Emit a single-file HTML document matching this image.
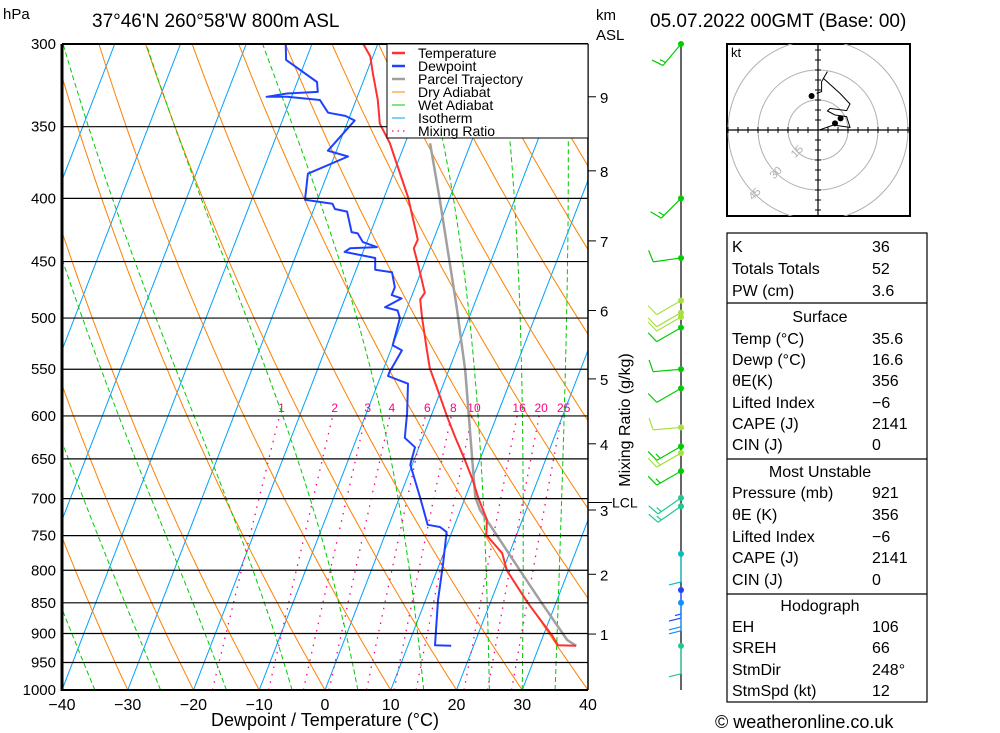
<!DOCTYPE html>
<html><head><meta charset="utf-8">
<style>
html,body{margin:0;padding:0;background:#fff;}
svg{display:block;font-family:"Liberation Sans",sans-serif;}
</style></head>
<body>
<svg id="chart" width="1000" height="733" viewBox="0 0 1000 733">
<defs><clipPath id="plotclip"><rect x="62" y="44" width="526" height="646"/></clipPath></defs>
<g id="bg" clip-path="url(#plotclip)"></g>
<g id="series" clip-path="url(#plotclip)"></g>
<g id="axes"></g>
<text x="3" y="19" font-size="15">hPa</text>
<text x="92" y="27" font-size="19">37°46'N  260°58'W  800m  ASL</text>
<text x="596" y="20" font-size="15">km</text>
<text x="596" y="40" font-size="15">ASL</text>
<text x="650" y="27" font-size="19">05.07.2022  00GMT  (Base: 00)</text>
<text x="325" y="726" font-size="18" text-anchor="middle">Dewpoint / Temperature (°C)</text>
<text x="630" y="420" font-size="16" text-anchor="middle" transform="rotate(-90 630 420)">Mixing Ratio (g/kg)</text>
<text x="715" y="728" font-size="18">© weatheronline.co.uk</text>
<g id="legend"></g>
<g id="winds"></g>
<g id="hodo"></g>
<g id="table"></g>
</svg>
<script>
// ---- data ----
const tempP=[300,307,317,333,348,361,371,399,416,432,439,455,477,483,499,531,549,569,601,624,651,676,699,728,749,775,800,850,903,920,921];
const tempT=[-32.2,-30.4,-29.0,-26.7,-25.0,-22.3,-20.7,-16.4,-14.3,-12.4,-12.5,-10.6,-8.2,-8.5,-7.2,-4.5,-3.0,-0.8,2.5,4.9,7.7,10.1,12.0,14.6,15.4,18.9,20.6,25.7,31.3,32.8,35.6];
const dewP=[300,309,322,328,329,331,331,333,341,343,346,366,370,382,401,404,408,410,426,427,434,438,439,442,447,457,459,472,479,482,490,493,500,526,531,549,551,557,565,597,625,636,657,698,735,738,745,789,846,920,921];
const dewT=[-44.0,-43.0,-37.0,-36.3,-40.9,-43.8,-40.7,-35.5,-33.5,-30.7,-29.0,-31.3,-27.9,-33.0,-31.9,-27.5,-26.8,-24.8,-22.9,-21.9,-20.6,-18.2,-22.2,-22.8,-17.8,-17.1,-14.4,-13.1,-13.1,-11.4,-13.4,-11.3,-10.5,-10.0,-8.3,-8.8,-8.9,-8.9,-5.4,-3.8,-2.7,-0.6,-0.3,3.1,5.9,7.9,9.2,10.5,11.9,14.1,16.6];
const parcelP=[921,911,846,800,715,698,664,551,490,401,361];
const parcelT=[35.6,33.9,27.4,22.6,13.0,11.5,9.6,2.5,-2.5,-11.4,-16.2];
const pressureTicks=[300,350,400,450,500,550,600,650,700,750,800,850,900,950,1000];
const tempTicks=[-40,-30,-20,-10,0,10,20,30,40];
const kmLabels=[9,8,7,6,5,4,3,2,1];
const kmPress=[331,380,433,493,560,632,715,806,901];
const mixRatios=[1,2,3,4,6,8,10,16,20,25];
const windP=[300,400,447,484,495,499,509,550,570,613,635,643,665,699,710,776,830,850,921];
const windDir=[220,225,262,240,240,240,240,265,240,265,240,240,240,235,235,180,180,180,180];
const windSpd=[15,15,10,10,10,10,10,10,10,10,15,15,15,15,15,10,15,20,10];
const windCol=["#00cc00","#00cc00","#00cc00","#a8e040","#a8e040","#a8e040","#00cc00","#00cc00","#00cc00","#a8e040","#00cc00","#a8e040","#00cc00","#20c890","#20c890","#00c0c0","#2040ff","#1090ff","#20c890"];
const hodoU=[0.7,7.7,16,14.3,8.5,4.7,6,14.3,16,11,2.7,4.7,1.8,1.8,-0.7];
const hodoV=[0,2.5,1.3,6.7,7.5,9.5,10.8,9.7,13,18.3,25.8,29.2,24.2,19.2,18.3];
const hodoRings=[15,30,45];

// ---- scales ----
const NS="http://www.w3.org/2000/svg";
const LN=Math.log(1000/300);
function Y(p){return 44+646*Math.log(p/300)/LN;}
function X(T,p){return 62+(T+40)*6.575+0.387*(690-Y(p));}
function mk(tag,attrs,parent){const e=document.createElementNS(NS,tag);for(const k in attrs)e.setAttribute(k,attrs[k]);parent.appendChild(e);return e;}
const bg=document.getElementById('bg'),ser=document.getElementById('series'),ax=document.getElementById('axes');

// isotherms
for(let T=-130;T<=40;T+=10){
  const l=mk('line',{x1:X(T,1000),y1:Y(1000),x2:X(T,300),y2:Y(300),stroke:'#00a0ff','stroke-width':1},bg);
  
  
}
// dry adiabats
for(let th=-40;th<=170;th+=10){
  let pts=[];
  for(let p=1000;p>=300;p-=10){const T=(th+273.15)*Math.pow(p/1000,0.2857)-273.15;pts.push(X(T,p).toFixed(1)+','+Y(p).toFixed(1));}
  const l=mk('polyline',{points:pts.join(' '),fill:'none',stroke:'#ff8000','stroke-width':1},bg);
  
  
}
// wet adiabats
function es(T){return 6.112*Math.exp(17.67*T/(T+243.5));}
[-45,-35,-25,-15,-5,5,15,25,30,35].forEach(tw=>{
  let T=tw+273.15,pts=[];
  for(let p=1000;p>=300;p-=5){
    pts.push(X(T-273.15,p).toFixed(1)+','+Y(p).toFixed(1));
    const e=es(T-273.15),rs=0.622*e/(p-e);
    const dTdp=(287*T+2.5e6*rs)/(1005+2.5e6*2.5e6*rs*0.622/(287*T*T))/p;
    T-=dTdp*5;
  }
  const l=mk('polyline',{points:pts.join(' '),fill:'none',stroke:'#00cc00','stroke-width':1,'stroke-dasharray':'5,3'},bg);
  
  
});
// mixing ratio
mixRatios.forEach(w=>{
  let pts=[];
  for(let p=1000;p>=600;p-=10){const e=w*p/(622+w),a=Math.log(e/6.112),Td=243.5*a/(17.67-a);pts.push(X(Td,p).toFixed(1)+','+Y(p).toFixed(1));}
  const l=mk('polyline',{points:pts.join(' '),fill:'none',stroke:'#ff0080','stroke-width':1.3,'stroke-dasharray':'1.5,6'},bg);
  
  
  const e=w*600/(622+w),a=Math.log(e/6.112),Td=243.5*a/(17.67-a);
  const t=mk('text',{x:X(Td,600)+2,y:412,'font-size':12,fill:'#ff0080','text-anchor':'middle'},bg);
  t.textContent=w;
  
  
});
// isobars
pressureTicks.forEach(p=>{
  const l=mk('line',{x1:62,x2:588,y1:Y(p),y2:Y(p),stroke:'#000','stroke-width':1.2},ax);
  
  
  const t=mk('text',{x:56,y:Y(p)+5,'font-size':15,'text-anchor':'end'},ax);
  t.textContent=p;
  
  
});
mk('line',{x1:62,x2:62,y1:44,y2:691,stroke:'#000','stroke-width':3},ax);
mk('line',{x1:62,x2:588,y1:44,y2:44,stroke:'#000','stroke-width':2},ax);
mk('line',{x1:62,x2:588,y1:690,y2:690,stroke:'#000','stroke-width':2},ax);
mk('line',{x1:588,x2:588,y1:44,y2:690,stroke:'#000','stroke-width':1.5},ax);
tempTicks.forEach(T=>{
  const t=mk('text',{x:62+(T+40)*6.575,y:710,'font-size':16,'text-anchor':'middle'},ax);
  t.textContent=T<0?'\u2212'+(-T):T;
  
  
});
kmLabels.forEach((k,i)=>{
  const y=Y(kmPress[i]);
  mk('line',{x1:588,x2:596,y1:y,y2:y,stroke:'#000'},ax);
  const t=mk('text',{x:600,y:y+6,'font-size':15},ax);
  t.textContent=k;
  
  
});
mk('line',{x1:588,x2:612,y1:Y(705),y2:Y(705),stroke:'#000'},ax);
const lcl=mk('text',{x:612,y:Y(705)+5,'font-size':14},ax);lcl.textContent='LCL';



// profiles
function profile(P,T,col,w,name){
  const pts=P.map((p,i)=>X(T[i],p).toFixed(1)+','+Y(p).toFixed(1)).join(' ');
  const l=mk('polyline',{points:pts,fill:'none',stroke:col,'stroke-width':w,'stroke-linejoin':'round'},ser);
  
  
}
profile(parcelP,parcelT,'#a0a0a0',2.5,'parcel-trajectory-line');
profile(tempP,tempT,'#ff3030',2,'temperature-line');
profile(dewP,dewT,'#2040ff',2,'dewpoint-line');

// legend
const lg=document.getElementById('legend');
mk('rect',{x:387,y:44,width:201,height:94,fill:'#fff',stroke:'#000','stroke-width':1},lg);
[['Temperature','#ff3030',2.5,''],['Dewpoint','#2040ff',2.5,''],['Parcel Trajectory','#a0a0a0',2.5,''],['Dry Adiabat','#ff8000',1,''],['Wet Adiabat','#00cc00',1,''],['Isotherm','#00a0ff',1,''],['Mixing Ratio','#ff0080',1.3,'1.5,4']].forEach((e,i)=>{
  const y=53+i*13;
  const l=mk('line',{x1:392,x2:405,y1:y,y2:y,stroke:e[1],'stroke-width':e[2]},lg);
  if(e[3])l.setAttribute('stroke-dasharray',e[3]);
  const t=mk('text',{x:418,y:y+5,'font-size':14},lg);t.textContent=e[0];
  
  
});

// wind barbs
const wg=document.getElementById('winds');
mk('line',{x1:681,x2:681,y1:44,y2:690,stroke:'#000','stroke-width':1.2},wg);
windP.forEach((p,i)=>{
  const y=Y(p),x=681,d=windDir[i]*Math.PI/180,c=windCol[i];
  const sX=Math.sin(d), sY=-Math.cos(d); // screen vector toward source
  const L=28, ex=x+sX*L, ey=y+sY*L;
  const st=mk('line',{x1:x,y1:y,x2:ex,y2:ey,stroke:c,'stroke-width':1.2},wg);
  
  
  const px=-sY, py=sX;
  let s=windSpd[i],k=0;
  while(s>=10){const bx=ex-sX*k*4,by=ey-sY*k*4;mk('line',{x1:bx,y1:by,x2:bx+px*12+sX*3,y2:by+py*12+sY*3,stroke:c,'stroke-width':1.2},wg);s-=10;k++;}
  if(s>=5){const kk=k?k:1;const bx=ex-sX*kk*4,by=ey-sY*kk*4;mk('line',{x1:bx,y1:by,x2:bx+px*6+sX*1.5,y2:by+py*6+sY*1.5,stroke:c,'stroke-width':1.2},wg);}
  const dot=mk('circle',{cx:x,cy:y,r:3,fill:c},wg);
  
  
});

// hodograph
const hg=document.getElementById('hodo'),HX=818,HY=130,HS=2;
mk('rect',{x:727,y:44,width:183,height:172,fill:'#fff',stroke:'#000','stroke-width':2},hg);
const hc=mk('g',{},hg);
const cp=mk('clipPath',{id:'hclip'},hc);mk('rect',{x:727,y:44,width:183,height:172},cp);
const hin=mk('g',{'clip-path':'url(#hclip)'},hg);
hodoRings.forEach(r=>{
  mk('circle',{cx:HX,cy:HY,r:r*HS,fill:'none',stroke:'#b0b0b0','stroke-width':1},hin);
  const a=Math.PI*0.75,tx=HX+Math.cos(a)*r*HS,ty=HY+Math.sin(a)*r*HS;
  const t=mk('text',{x:tx,y:ty+4,'font-size':11,fill:'#b0b0b0','text-anchor':'middle',transform:`rotate(-45 ${tx} ${ty})`},hin);
  t.textContent=r;
  
  
});
mk('line',{x1:727,x2:910,y1:HY,y2:HY,stroke:'#000','stroke-width':1.2},hin);
mk('line',{x1:HX,x2:HX,y1:44,y2:216,stroke:'#000','stroke-width':1.2},hin);
for(let k=-45;k<=45;k+=5){if(!k)continue;mk('line',{x1:HX+k*HS,x2:HX+k*HS,y1:HY-3,y2:HY+3,stroke:'#000'},hin);mk('line',{x1:HX-3,x2:HX+3,y1:HY+k*HS,y2:HY+k*HS,stroke:'#000'},hin);}
const hp=mk('polyline',{points:hodoU.map((u,i)=>(HX+u*HS).toFixed(1)+','+(HY-hodoV[i]*HS).toFixed(1)).join(' '),fill:'none',stroke:'#000','stroke-width':1},hin);


mk('circle',{cx:HX-3.2*HS,cy:HY-17*HS,r:3,fill:'#000'},hin);
mk('circle',{cx:HX+8.5*HS,cy:HY-3.3*HS,r:3,fill:'#000'},hin);
mk('circle',{cx:HX+11.3*HS,cy:HY-5.8*HS,r:3,fill:'#000'},hin);
const kt=mk('text',{x:731,y:57,'font-size':13},hg);kt.textContent='kt';

// table
const tg=document.getElementById('table');
mk('rect',{x:727,y:233,width:200,height:469,fill:'#fff',stroke:'#000','stroke-width':1.2},tg);
[303,459,594].forEach(y=>mk('line',{x1:727,x2:927,y1:y,y2:y,stroke:'#000','stroke-width':1.2},tg));
const rows=[[246,'K','36'],[268,'Totals Totals','52'],[290,'PW (cm)','3.6'],[316,'H:Surface',''],[338,'Temp (°C)','35.6'],[359,'Dewp (°C)','16.6'],[380,'θE(K)','356'],[402,'Lifted Index','\u22126'],[423,'CAPE (J)','2141'],[444,'CIN (J)','0'],[471,'H:Most Unstable',''],[492,'Pressure (mb)','921'],[514,'θE (K)','356'],[536,'Lifted Index','\u22126'],[557,'CAPE (J)','2141'],[579,'CIN (J)','0'],[605,'H:Hodograph',''],[626,'EH','106'],[647,'SREH','66'],[669,'StmDir','248°'],[690,'StmSpd (kt)','12']];
rows.forEach(r=>{
  if(r[1].startsWith('H:')){
    const t=mk('text',{x:820,y:r[0]+6,'font-size':16,'text-anchor':'middle'},tg);t.textContent=r[1].slice(2);
    
    
  }else{
    const t=mk('text',{x:732,y:r[0]+6,'font-size':16},tg);t.textContent=r[1];
    
    
    const v=mk('text',{x:872,y:r[0]+6,'font-size':16},tg);v.textContent=r[2];
    
    
  }
});
</script>
</body></html>
